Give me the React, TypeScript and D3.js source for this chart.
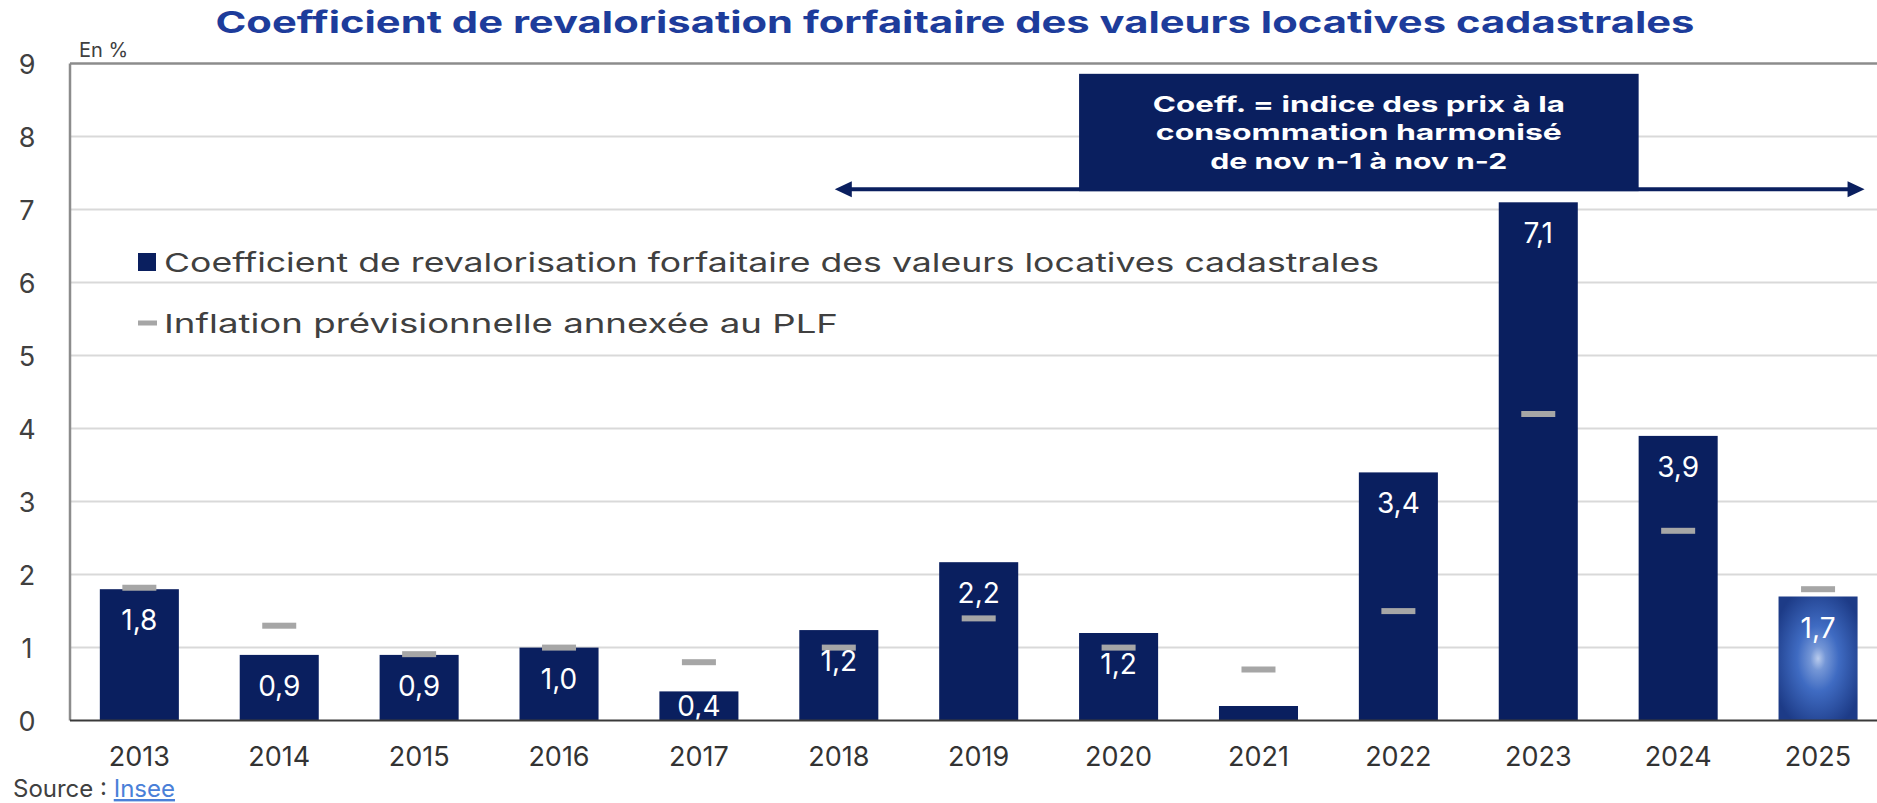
import React from "react";
import * as d3 from "d3";

const years = ["2013", "2014", "2015", "2016", "2017", "2018", "2019", "2020", "2021", "2022", "2023", "2024", "2025"];
const coefficient = [1.8, 0.9, 0.9, 1.0, 0.4, 1.24, 2.17, 1.2, 0.2, 3.4, 7.1, 3.9, 1.7];
const inflation = [1.82, 1.3, 0.91, 1.0, 0.8, 1.0, 1.4, 1.0, 0.7, 1.5, 4.2, 2.6, 1.8];
const highlightedYears = ["2025"];
const yTicks = [0, 1, 2, 3, 4, 5, 6, 7, 8, 9];

const titleText = "Coefficient de revalorisation forfaitaire des valeurs locatives cadastrales";
const legendBar = "Coefficient de revalorisation forfaitaire des valeurs locatives cadastrales";
const legendDash = "Inflation prévisionnelle annexée au PLF";
const noteLines = ["Coeff. = indice des prix à la", "consommation harmonisé", "de nov n-1 à nov n-2"];
const noteFrom = "2018";
const boxFrom = "2020";
const boxTo = "2024";
const noteTop = 8.86;
const noteBottom = 7.28;

const W = 1877;
const H = 803;
const NAVY = "#0a1f5f";
const GRAY = "#a6a6a6";
const FONT = "Inter, 'DejaVu Sans', sans-serif";

export default function App() {
  const x = d3.scaleBand<string>().domain(years).range([69.4, 1888]).paddingInner(0.435).paddingOuter(0.2175);
  const y = d3.scaleLinear().domain([0, 9]).range([720.6, 63.6]);
  const bw = x.bandwidth();
  const fmt = (v: number) => d3.format(".1f")(v).replace(".", ",");
  const left = 70;

  const arrowY = y(noteBottom);
  const arrowL = (x(noteFrom) as number) + bw / 2 - 4;
  const arrowR = (x("2025") as number) + bw + 7;
  const boxL = x(boxFrom) as number;
  const boxR = x(boxTo) as number;
  const boxT = y(noteTop);

  return (
    <svg width={W} height={H} style={{ position: "absolute", left: 0, top: 0, background: "#fff" }} fontFamily={FONT}>
      <defs>
        <radialGradient id="glow" cx="50%" cy="50%" r="60%">
          <stop offset="0%" stopColor="#b9cbed" />
          <stop offset="16%" stopColor="#7496d6" />
          <stop offset="44%" stopColor="#3f6bc2" />
          <stop offset="100%" stopColor="#1d3b87" />
        </radialGradient>
      </defs>

      {/* title */}
      <text x={955} y={33} textAnchor="middle" fontSize={30} fontWeight={700} fill="#1d3c9b" textLength={1479} lengthAdjust="spacingAndGlyphs">
        {titleText}
      </text>

      {/* unit */}
      <text x={79} y={57} fontSize={20} fill="#404040">En %</text>

      {/* gridlines */}
      {yTicks.filter((t) => t > 0 && t < 9).map((t) => (
        <line key={t} x1={left} x2={W} y1={y(t)} y2={y(t)} stroke="#d9d9d9" strokeWidth={2} />
      ))}

      {/* frame */}
      <line x1={left} x2={W} y1={y(9)} y2={y(9)} stroke="#8c8c8c" strokeWidth={2.5} />
      <line x1={left} x2={left} y1={y(9)} y2={y(0)} stroke="#8c8c8c" strokeWidth={2.5} />

      {/* y tick labels */}
      {yTicks.map((t) => (
        <text key={t} x={27} y={y(t) + 10} textAnchor="middle" fontSize={27} fill="#404040">{t}</text>
      ))}

      {/* legend */}
      <rect x={138} y={253} width={18} height={18} fill={NAVY} />
      <text x={164} y={271.5} fontSize={26} fill="#404040" textLength={1215} lengthAdjust="spacingAndGlyphs">{legendBar}</text>
      <rect x={138} y={320.5} width={19} height={5} fill={GRAY} />
      <text x={164} y={332.5} fontSize={26} fill="#404040" textLength={674} lengthAdjust="spacingAndGlyphs">{legendDash}</text>

      {/* annotation */}
      <line x1={arrowL + 14} x2={arrowR - 14} y1={arrowY} y2={arrowY} stroke={NAVY} strokeWidth={4} />
      <path d={`M${arrowL},${arrowY} L${arrowL + 17},${arrowY - 8} L${arrowL + 17},${arrowY + 8} Z`} fill={NAVY} />
      <path d={`M${arrowR},${arrowY} L${arrowR - 17},${arrowY - 8} L${arrowR - 17},${arrowY + 8} Z`} fill={NAVY} />
      <rect x={boxL} y={boxT} width={boxR - boxL} height={arrowY + 2 - boxT} fill={NAVY} />
      {noteLines.map((l, i) => (
        <text key={i} x={(boxL + boxR) / 2} y={111.5 + i * 28.5} textAnchor="middle" fontSize={22} fontWeight={700} fill="#fff"
          textLength={[412, 406, 297][i]} lengthAdjust="spacingAndGlyphs">{l}</text>
      ))}

      {/* bars */}
      {years.map((yr, i) => {
        const v = coefficient[i];
        const top = y(v);
        const hl = highlightedYears.includes(yr);
        return (
          <rect key={yr} x={x(yr)} y={top} width={bw} height={y(0) - top} fill={hl ? "url(#glow)" : NAVY} />
        );
      })}

      {/* inflation markers */}
      {years.map((yr, i) => (
        <rect key={yr} x={(x(yr) as number) + bw / 2 - 17} y={y(inflation[i]) - 3} width={34} height={6} fill={GRAY} />
      ))}

      {/* value labels */}
      {years.map((yr, i) => {
        const v = coefficient[i];
        if (v < 0.3) return null;
        const cy = Math.min(y(v) + 31, y(0) - 15);
        return (
          <text key={yr} x={(x(yr) as number) + bw / 2} y={cy + 10} textAnchor="middle" fontSize={28} fill="#fff">{fmt(v)}</text>
        );
      })}

      {/* baseline */}
      <line x1={left} x2={W} y1={y(0)} y2={y(0)} stroke="#3a3a3a" strokeWidth={2} />

      {/* x tick labels */}
      {years.map((yr) => (
        <text key={yr} x={(x(yr) as number) + bw / 2} y={766} textAnchor="middle" fontSize={27} fill="#333">{yr}</text>
      ))}

      {/* source */}
      <text x={13} y={797} fontSize={24} fill="#404040">
        Source : <tspan fill="#4a80d8" textDecoration="underline">Insee</tspan>
      </text>
    </svg>
  );
}
